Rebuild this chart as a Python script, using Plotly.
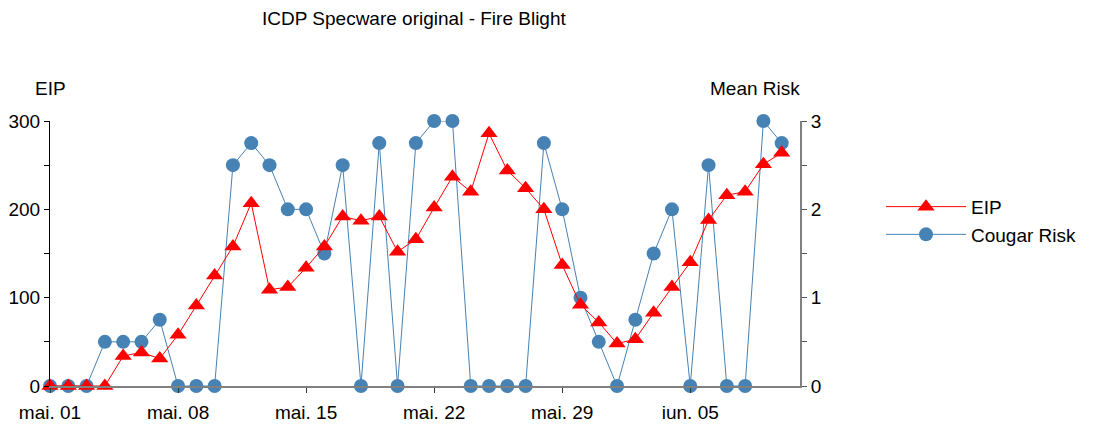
import pandas as pd
import plotly.graph_objects as go

# Daily observations, 1 May - 10 June
dates = pd.date_range("2023-05-01", "2023-06-10", freq="D")

# Epiphytic infection potential (left axis)
eip = [0, 0, 0, 0, 34, 38, 31, 58, 91, 125, 158, 207, 109, 112,
       134, 158, 192, 187, 192, 152, 166, 202, 237, 220, 286, 244,
       224, 200, 137, 92, 72, 48, 53, 83, 112, 140, 188, 216, 220,
       251, 264]

# Cougar blight risk (right axis)
cougar_risk = [0, 0, 0, 0.5, 0.5, 0.5, 0.75, 0, 0, 0, 2.5, 2.75, 2.5, 2,
               2, 1.5, 2.5, 0, 2.75, 0, 2.75, 3, 3, 0, 0, 0,
               0, 2.75, 2, 1, 0.5, 0, 0.75, 1.5, 2, 0, 2.5, 0, 0,
               3, 2.75]

week_ticks = ["2023-05-01", "2023-05-08", "2023-05-15", "2023-05-22",
              "2023-05-29", "2023-06-05"]
week_labels = ["mai. 01", "mai. 08", "mai. 15", "mai. 22", "mai. 29", "iun. 05"]

eip_ticks = [0, 50, 100, 150, 200, 250, 300]
eip_labels = ["0", "", "100", "", "200", "", "300"]
risk_ticks = [0, 0.5, 1, 1.5, 2, 2.5, 3]
risk_labels = ["0", "", "1", "", "2", "", "3"]

FONT = "Liberation Sans, Arial, sans-serif"
RED = "#FF0000"
BLUE = "#4682B4"

fig = go.Figure()

fig.add_trace(go.Scatter(
    x=dates, y=eip, name="EIP", yaxis="y2",
    mode="lines+markers",
    line=dict(color=RED, width=1),
    marker=dict(symbol="triangle-up", size=15, color=RED),
    cliponaxis=False,
))
fig.add_trace(go.Scatter(
    x=dates, y=cougar_risk, name="Cougar Risk", yaxis="y",
    mode="lines+markers",
    line=dict(color=BLUE, width=1),
    marker=dict(symbol="circle", size=14, color=BLUE),
    cliponaxis=False,
))

fig.update_layout(
    width=1093, height=429,
    margin=dict(l=50, r=293, t=121, b=43, autoexpand=False),
    paper_bgcolor="white", plot_bgcolor="white",
    font=dict(family=FONT, size=19, color="black"),
    showlegend=True,
    legend=dict(x=1.108, xanchor="left", y=0.748, yanchor="top",
                itemwidth=80,
                font=dict(size=19), bgcolor="rgba(0,0,0,0)"),
    xaxis=dict(
        type="date",
        range=["2023-05-01", "2023-06-11"],
        tickvals=week_ticks, ticktext=week_labels,
        ticks="outside", ticklen=5, tickcolor="#333333",
        ticklabelstandoff=3,
        showline=True, linecolor="#808080", linewidth=2,
        showgrid=False, zeroline=False,
        tickfont=dict(size=19),
    ),
    yaxis=dict(
        side="right", range=[0, 3],
        tickvals=risk_ticks, ticktext=risk_labels,
        ticks="outside", ticklen=5, tickcolor="#555555",
        showline=True, linecolor="#808080", linewidth=2,
        showgrid=False, zeroline=False,
        tickfont=dict(size=19),
    ),
    yaxis2=dict(
        side="left", overlaying="y", range=[0, 300],
        tickvals=eip_ticks, ticktext=eip_labels,
        ticks="outside", ticklen=5, tickcolor="black",
        showline=True, linecolor="black", linewidth=1,
        showgrid=False, zeroline=False,
        tickfont=dict(size=19),
    ),
    annotations=[
        dict(text="ICDP Specware original - Fire Blight", xref="paper", yref="paper",
             x=0.4853, y=1.385, xanchor="center", yanchor="middle",
             showarrow=False, font=dict(size=19)),
        dict(text="EIP", xref="paper", yref="paper",
             x=-0.023, y=1.1245, xanchor="left", yanchor="middle",
             showarrow=False, font=dict(size=19)),
        dict(text="Mean Risk", xref="paper", yref="paper",
             x=1.002, y=1.1245, xanchor="right", yanchor="middle",
             showarrow=False, font=dict(size=19)),
    ],
)

fig.write_html("out.html")
